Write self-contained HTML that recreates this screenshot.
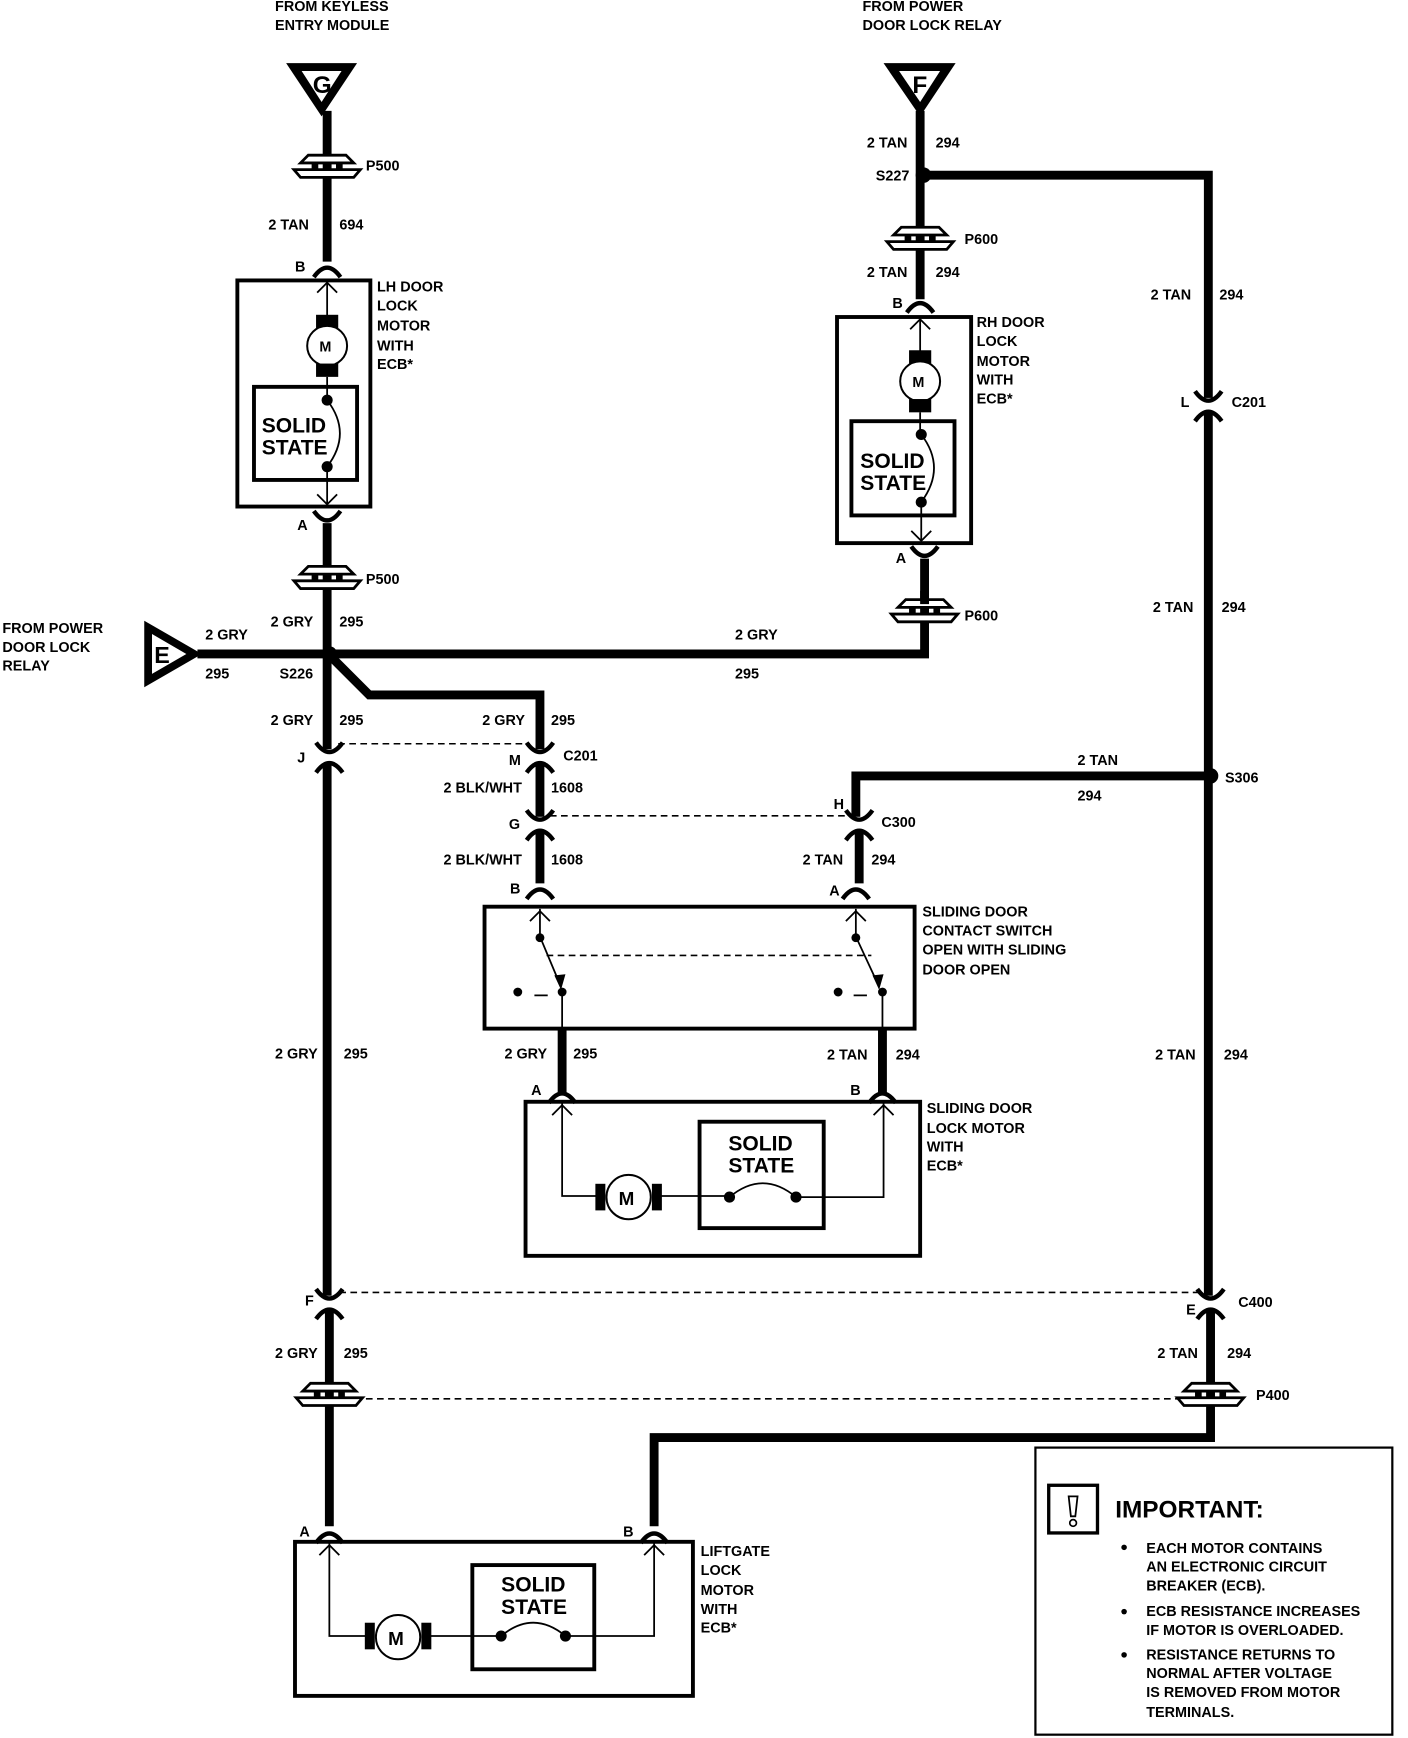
<!DOCTYPE html>
<html><head><meta charset="utf-8"><style>
html,body{margin:0;padding:0;background:#fff}
svg{display:block}
text{font-family:"Liberation Sans",sans-serif;font-weight:bold;font-size:13px;fill:#000}
.big{font-size:19px}
.w{stroke:#000;stroke-width:8;fill:none}
.t{stroke:#000;stroke-width:1.6;fill:none}
.b{stroke:#000;stroke-width:3.5;fill:none}
.d{stroke:#000;stroke-width:1.4;stroke-dasharray:6 4;fill:none}
</style></head><body>
<svg width="1408" height="1738" viewBox="0 0 1270 1568" xmlns="http://www.w3.org/2000/svg">
<defs>
<g id="grom"><polygon points="-17,-10 17,-10 24,-3 -24,-3" fill="#fff" stroke="#000" stroke-width="2.5"/><rect x="-14" y="-3" width="6" height="6"/><rect x="8" y="-3" width="6" height="6"/><polygon points="-30,3 30,3 24,10 -24,10" fill="#fff" stroke="#000" stroke-width="2.5"/></g>
<path id="cap" d="M-12,7 Q0,-10 12,7" stroke="#000" stroke-width="4" fill="none"/>
<path id="cup" d="M-12,-7 Q0,10 12,-7" stroke="#000" stroke-width="4" fill="none"/>
<path id="arr" d="M-9,9 L0,0 L9,9" stroke="#000" stroke-width="1.6" fill="none"/>
</defs>

<!-- G triangle -->
<polygon points="258,57 322,57 290,105" fill="#000"/><polygon points="272,64 308,64 290,92" fill="#fff"/>
<text x="282" y="84" style="font-size:22px">G</text>
<text x="248" y="10">FROM KEYLESS</text><text x="248" y="27">ENTRY MODULE</text>
<!-- F triangle -->
<polygon points="797,57 862,57 830,105" fill="#000"/><polygon points="811,64 848,64 830,92" fill="#fff"/>
<text x="823" y="84" style="font-size:22px">F</text>
<text x="778" y="10">FROM POWER</text><text x="778" y="27">DOOR LOCK RELAY</text>
<!-- E triangle -->
<polygon points="130,560 130,620 182,590" fill="#000"/><polygon points="137,572 137,608 168,590" fill="#fff"/>
<text x="139" y="598" style="font-size:21px">E</text>
<text x="2" y="571">FROM POWER</text><text x="2" y="588">DOOR LOCK</text><text x="2" y="605">RELAY</text>

<!-- Left main wire -->
<path class="w" d="M295,100 V236"/>
<use href="#grom" x="295" y="150"/>
<text x="330" y="154">P500</text>
<text x="242" y="207">2 TAN</text><text x="306" y="207">694</text>
<text x="266" y="245">B</text><use href="#cap" x="295" y="243"/>
<rect x="214" y="253" width="120" height="204" class="b"/>
<path class="t" d="M295,253 V287"/><use href="#arr" x="295" y="255"/>
<rect x="285" y="284" width="20" height="12"/><circle cx="295" cy="312" r="18" fill="#fff" stroke="#000" stroke-width="1.8"/><text x="288" y="317">M</text><rect x="285" y="328" width="20" height="12"/>
<path class="t" d="M295,340 V360"/>
<rect x="229" y="349" width="93" height="84" class="b"/>
<text x="236" y="390" class="big">SOLID</text><text x="236" y="410" class="big">STATE</text>
<circle cx="295" cy="361" r="5"/><circle cx="295" cy="421" r="5"/>
<path class="t" d="M295,361 Q318,391 295,421 M295,421 V455"/><use href="#arr" x="295" y="445" transform="rotate(180 295 450)"/>
<text x="340" y="263">LH DOOR</text><text x="340" y="280">LOCK</text><text x="340" y="298">MOTOR</text><text x="340" y="316">WITH</text><text x="340" y="333">ECB*</text>
<text x="268" y="478">A</text><use href="#cup" x="295" y="468"/>
<path class="w" d="M295,472 V1170"/>
<use href="#grom" x="295" y="521"/><text x="330" y="527">P500</text>
<text x="244" y="565">2 GRY</text><text x="306" y="565">295</text>
<!-- E horizontal -->
<path class="w" d="M178,590 H834 V533"/>
<circle cx="297" cy="590" r="7"/>
<text x="185" y="577">2 GRY</text><text x="185" y="612">295</text><text x="252" y="612">S226</text>
<text x="663" y="577">2 GRY</text><text x="663" y="612">295</text>
<use href="#grom" x="834" y="551"/><text x="870" y="560">P600</text>
<!-- branch -->
<path class="w" d="M300,594 L333,627 H487 V677"/>
<text x="244" y="654">2 GRY</text><text x="306" y="654">295</text>
<text x="435" y="654">2 GRY</text><text x="497" y="654">295</text>
<!-- J connector -->
<rect x="290" y="676" width="14" height="14" fill="#fff"/>
<use href="#cup" x="297" y="677"/><use href="#cap" x="297" y="690"/><text x="268" y="688">J</text>
<path class="d" d="M305,671 H478"/>
<!-- M/C201 -->
<rect x="480" y="676" width="14" height="14" fill="#fff"/>
<use href="#cup" x="487" y="677"/><use href="#cap" x="487" y="690"/><text x="459" y="690">M</text><text x="508" y="686">C201</text>
<path class="w" d="M487,690 V737"/>
<text x="400" y="715">2 BLK/WHT</text><text x="497" y="715">1608</text>
<rect x="480" y="737" width="14" height="14" fill="#fff"/>
<use href="#cup" x="487" y="738"/><use href="#cap" x="487" y="751"/><text x="459" y="748">G</text>
<path class="d" d="M496,736 H766"/>
<path class="w" d="M487,751 V797"/>
<text x="400" y="780">2 BLK/WHT</text><text x="497" y="780">1608</text>
<text x="460" y="806">B</text><use href="#cap" x="487" y="804"/>
<!-- Right side -->
<path class="w" d="M830,100 V270"/>
<text x="782" y="133">2 TAN</text><text x="844" y="133">294</text>
<circle cx="833" cy="158" r="7"/><text x="790" y="163">S227</text>
<path class="w" d="M833,158 H1090 V1170"/>
<use href="#grom" x="830" y="215"/><text x="870" y="220">P600</text>
<text x="782" y="250">2 TAN</text><text x="844" y="250">294</text>
<text x="805" y="278">B</text><use href="#cap" x="830" y="275"/>
<rect x="755" y="286" width="121" height="204" class="b"/>
<path class="t" d="M830,286 V317"/><use href="#arr" x="830" y="288"/>
<rect x="820" y="316" width="20" height="12"/><circle cx="830" cy="344" r="18" fill="#fff" stroke="#000" stroke-width="1.8"/><text x="823" y="349">M</text><rect x="820" y="360" width="20" height="12"/>
<path class="t" d="M830,372 V392"/>
<rect x="768" y="380" width="93" height="85" class="b"/>
<text x="776" y="422" class="big">SOLID</text><text x="776" y="442" class="big">STATE</text>
<circle cx="831" cy="392" r="5"/><circle cx="831" cy="453" r="5"/>
<path class="t" d="M831,392 Q854,422 831,453 M831,453 V488"/><use href="#arr" x="831" y="478" transform="rotate(180 831 483)"/>
<text x="881" y="295">RH DOOR</text><text x="881" y="312">LOCK</text><text x="881" y="330">MOTOR</text><text x="881" y="347">WITH</text><text x="881" y="364">ECB*</text>
<text x="808" y="508">A</text><use href="#cup" x="834" y="500"/>
<path class="w" d="M834,504 V545"/>
<text x="1038" y="270">2 TAN</text><text x="1100" y="270">294</text>
<rect x="1083" y="359" width="14" height="14" fill="#fff"/>
<use href="#cup" x="1090" y="360"/><use href="#cap" x="1090" y="373"/><text x="1065" y="367">L</text><text x="1111" y="367">C201</text>
<text x="1040" y="552">2 TAN</text><text x="1102" y="552">294</text>
<circle cx="1092" cy="700" r="7"/><text x="1105" y="706">S306</text>
<path class="w" d="M1092,700 H772 V737"/>
<text x="972" y="690">2 TAN</text><text x="972" y="722">294</text>
<rect x="768" y="737" width="14" height="14" fill="#fff"/>
<use href="#cup" x="775" y="738"/><use href="#cap" x="775" y="751"/><text x="752" y="730">H</text><text x="795" y="746">C300</text>
<path class="w" d="M775,751 V797"/>
<text x="724" y="780">2 TAN</text><text x="786" y="780">294</text>
<text x="748" y="808">A</text><use href="#cap" x="772" y="804"/>
<!-- Switch box -->
<rect x="437" y="818" width="388" height="110" class="b"/>
<path class="t" d="M487,820 V845 L505,888 M772,820 V845 L792,888"/>
<use href="#arr" x="487" y="822"/><use href="#arr" x="772" y="822"/>
<circle cx="487" cy="846" r="4"/><circle cx="772" cy="846" r="4"/>
<path d="M500,880 L506,893 L510,879 Z M787,880 L793,893 L797,879 Z"/>
<path class="d" d="M493,862 H786"/>
<circle cx="467" cy="895" r="4"/><circle cx="507" cy="895" r="4"/><circle cx="756" cy="895" r="4"/><circle cx="796" cy="895" r="4"/>
<path class="t" d="M482,898 H494 M770,898 H782 M507,895 V928 M796,895 V928"/>
<text x="832" y="827">SLIDING DOOR</text><text x="832" y="844">CONTACT SWITCH</text><text x="832" y="861">OPEN WITH SLIDING</text><text x="832" y="879">DOOR OPEN</text>
<path class="w" d="M507,928 V987 M796,928 V987"/>
<text x="455" y="955">2 GRY</text><text x="517" y="955">295</text>
<text x="746" y="956">2 TAN</text><text x="808" y="956">294</text>
<text x="479" y="988">A</text><use href="#cap" x="507" y="988"/>
<text x="767" y="988">B</text><use href="#cap" x="796" y="988"/>
<!-- sliding motor box -->
<rect x="474" y="994" width="356" height="139" class="b"/>
<path class="t" d="M507,995 V1079 H540 M596,1079 H660 M718,1080 H797 V995"/>
<use href="#arr" x="507" y="997"/><use href="#arr" x="797" y="997"/>
<rect x="537" y="1068" width="9" height="24"/><circle cx="567" cy="1080" r="20" fill="#fff" stroke="#000" stroke-width="1.8"/><text x="558" y="1087" style="font-size:17px">M</text><rect x="588" y="1068" width="9" height="24"/>
<rect x="631" y="1012" width="112" height="96" class="b"/>
<text x="657" y="1038" class="big">SOLID</text><text x="657" y="1058" class="big">STATE</text>
<circle cx="658" cy="1080" r="5"/><circle cx="718" cy="1080" r="5"/><path class="t" d="M658,1080 Q688,1055 718,1080"/>
<text x="836" y="1004">SLIDING DOOR</text><text x="836" y="1022">LOCK MOTOR</text><text x="836" y="1039">WITH</text><text x="836" y="1056">ECB*</text>
<text x="248" y="955">2 GRY</text><text x="310" y="955">295</text>
<text x="1042" y="956">2 TAN</text><text x="1104" y="956">294</text>
<!-- F / E connectors -->
<path class="d" d="M306,1166 H1083"/>
<rect x="290" y="1169" width="14" height="14" fill="#fff"/>
<use href="#cup" x="297" y="1170"/><use href="#cap" x="297" y="1183"/><text x="275" y="1178">F</text>
<rect x="1085" y="1169" width="14" height="14" fill="#fff"/>
<use href="#cup" x="1092" y="1170"/><use href="#cap" x="1092" y="1183"/><text x="1070" y="1186">E</text><text x="1117" y="1179">C400</text>
<path class="w" d="M297,1183 V1377 M1092,1183 V1297 H590 V1377"/>
<text x="248" y="1225">2 GRY</text><text x="310" y="1225">295</text>
<text x="1044" y="1225">2 TAN</text><text x="1107" y="1225">294</text>
<path class="d" d="M330,1262 H1062"/>
<use href="#grom" x="297" y="1258"/><use href="#grom" x="1092" y="1258"/><text x="1133" y="1263">P400</text>
<!-- Liftgate -->
<text x="270" y="1386">A</text><use href="#cap" x="297" y="1385"/>
<text x="562" y="1386">B</text><use href="#cap" x="590" y="1385"/>
<rect x="266" y="1391" width="359" height="139" class="b"/>
<path class="t" d="M297,1392 V1476 H330 M388,1476 H452 M510,1476 H590 V1392"/>
<use href="#arr" x="297" y="1394"/><use href="#arr" x="590" y="1394"/>
<rect x="329" y="1464" width="9" height="24"/><circle cx="359" cy="1477" r="20" fill="#fff" stroke="#000" stroke-width="1.8"/><text x="350" y="1484" style="font-size:17px">M</text><rect x="380" y="1464" width="9" height="24"/>
<rect x="426" y="1412" width="110" height="94" class="b"/>
<text x="452" y="1436" class="big">SOLID</text><text x="452" y="1456" class="big">STATE</text>
<circle cx="452" cy="1476" r="5"/><circle cx="510" cy="1476" r="5"/><path class="t" d="M452,1476 Q481,1452 510,1476"/>
<text x="632" y="1404">LIFTGATE</text><text x="632" y="1421">LOCK</text><text x="632" y="1439">MOTOR</text><text x="632" y="1456">WITH</text><text x="632" y="1473">ECB*</text>
<!-- Important -->
<rect x="934" y="1306" width="322" height="259" fill="none" stroke="#000" stroke-width="2"/>
<rect x="946" y="1340" width="44" height="43" fill="none" stroke="#000" stroke-width="3"/>
<path class="t" d="M964,1350 h8 l-2,18 h-4 Z"/><circle cx="968" cy="1374" r="3" fill="none" stroke="#000" stroke-width="1.5"/>
<text x="1006" y="1369" style="font-size:22px">IMPORTANT:</text>
<circle cx="1014" cy="1396" r="2.5"/><circle cx="1014" cy="1454" r="2.5"/><circle cx="1014" cy="1493" r="2.5"/>
<text x="1034" y="1401">EACH MOTOR CONTAINS</text><text x="1034" y="1418">AN ELECTRONIC CIRCUIT</text><text x="1034" y="1435">BREAKER (ECB).</text>
<text x="1034" y="1458">ECB RESISTANCE INCREASES</text><text x="1034" y="1475">IF MOTOR IS OVERLOADED.</text>
<text x="1034" y="1497">RESISTANCE RETURNS TO</text><text x="1034" y="1514">NORMAL AFTER VOLTAGE</text><text x="1034" y="1531">IS REMOVED FROM MOTOR</text><text x="1034" y="1549">TERMINALS.</text>
</svg>
</body></html>
